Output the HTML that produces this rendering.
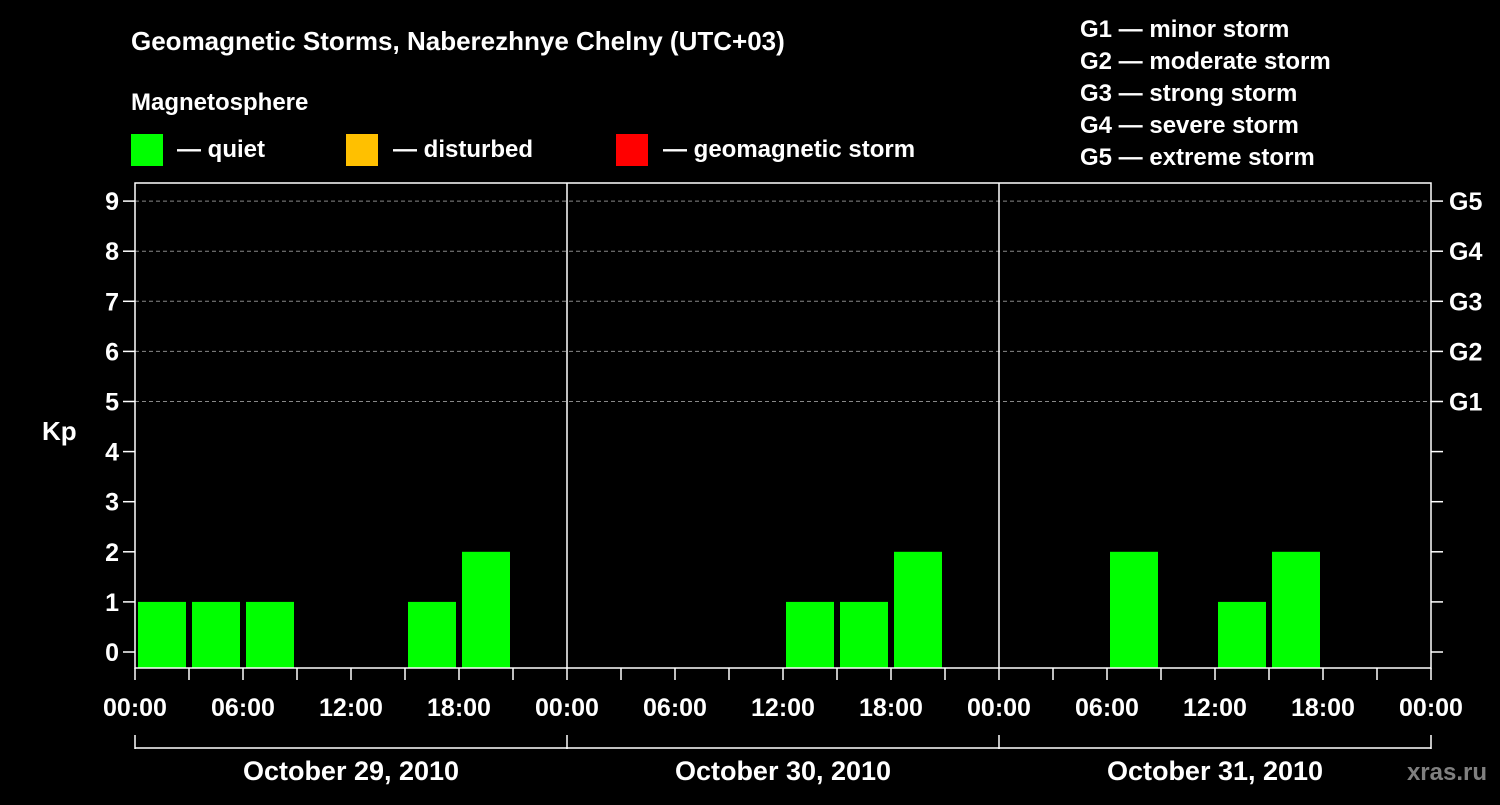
<!DOCTYPE html>
<html><head><meta charset="utf-8"><style>
body{margin:0;background:#000;width:1500px;height:800px;overflow:hidden;}
svg text{font-family:"Liberation Sans",Arial,sans-serif;font-weight:bold;fill:#fff;}
</style></head><body>
<svg id="c" width="1500" height="800">
<text x="131" y="50" font-size="26">Geomagnetic Storms, Naberezhnye Chelny (UTC+03)</text>
<text x="131" y="110" font-size="24">Magnetosphere</text>
<rect x="131" y="134" width="32" height="32" fill="#00ff00"/>
<text x="177" y="157" font-size="24">— quiet</text>
<rect x="346" y="134" width="32" height="32" fill="#ffc000"/>
<text x="393" y="157" font-size="24">— disturbed</text>
<rect x="616" y="134" width="32" height="32" fill="#ff0000"/>
<text x="663" y="157" font-size="24">— geomagnetic storm</text>
<g font-size="24">
<text x="1080" y="37">G1 — minor storm</text>
<text x="1080" y="69">G2 — moderate storm</text>
<text x="1080" y="101">G3 — strong storm</text>
<text x="1080" y="133">G4 — severe storm</text>
<text x="1080" y="165">G5 — extreme storm</text>
</g>
<text x="42" y="440" font-size="26">Kp</text>
<text x="1487" y="780" font-size="24" text-anchor="end" style="fill:#808080">xras.ru</text>
<g id="plot"></g>
</svg>
<script>
const kpValues=[1,1,1,0,0,1,2,0, 0,0,0,0,1,1,2,0, 0,0,2,0,1,2,0,0];
const dayLabels=["October 29, 2010","October 30, 2010","October 31, 2010"];
const hourLabels=["00:00","06:00","12:00","18:00"];
const gLabels=["G1","G2","G3","G4","G5"];
const yTicks=[0,1,2,3,4,5,6,7,8,9];
const L=135,R=1431,T=183,B=668;
const slotW=(R-L)/kpValues.length;
const x=i=>L+i*slotW;
const y=v=>652-v*50.1;
const ns="http://www.w3.org/2000/svg";
const g=document.getElementById('plot');
function mk(t,a,txt){const e=document.createElementNS(ns,t);for(const k in a)e.setAttribute(k,a[k]);if(txt!==undefined)e.textContent=txt;g.appendChild(e);return e;}
yTicks.forEach(v=>{
 if(v>=5){const l=mk('line',{x1:L,x2:R,y1:y(v),y2:y(v),stroke:'#888','stroke-dasharray':'4,3','stroke-width':1});
 
 }
 const t=mk('line',{x1:L-12,x2:L,y1:y(v),y2:y(v),stroke:'#fff','stroke-width':1.5});
 
 
 const t2=mk('line',{x1:R,x2:R+12,y1:y(v),y2:y(v),stroke:'#fff','stroke-width':1.5});
 
 
 const lb=mk('text',{x:L-16,y:y(v)+9,'font-size':25,'text-anchor':'end'},String(v));
 
 
 if(v>=5){const gl=mk('text',{x:R+18,y:y(v)+9,'font-size':25},gLabels[v-5]);
 
 }
});
kpValues.forEach((v,i)=>{
 if(v<=0)return;
 const c=v>=5?'#ff0000':(v>=4?'#ffc000':'#00ff00');
 const r=mk('rect',{x:x(i)+3,y:y(v),width:slotW-6,height:B-y(v),fill:c});
 
 
});
const fr=mk('rect',{x:L,y:T,width:R-L,height:B-T,fill:'none',stroke:'#fff','stroke-width':1.5});


const nd=dayLabels.length, dayW=(R-L)/nd;
for(let d=0;d<=nd;d++){
 const dx=L+d*dayW;
 if(d>0&&d<nd){const l=mk('line',{x1:dx,x2:dx,y1:T,y2:B,stroke:'#fff','stroke-width':1.5});
 
 }
 const bt=mk('line',{x1:dx,x2:dx,y1:735,y2:749,stroke:'#fff','stroke-width':1.5});
 
 
 if(d<nd){const dl=mk('text',{x:dx+dayW/2,y:780,'font-size':27,'text-anchor':'middle'},dayLabels[d]);
 
 }
}
const bl=mk('line',{x1:L,x2:R,y1:748,y2:748,stroke:'#fff','stroke-width':1.5});


for(let i=0;i<=kpValues.length;i++){
 const tx=x(i);
 const t=mk('line',{x1:tx,x2:tx,y1:B,y2:B+12,stroke:'#fff','stroke-width':1.5});
 
 
 if(i%2===0){const lb=mk('text',{x:tx,y:716,'font-size':25,'text-anchor':'middle'},hourLabels[(i/2)%4]);
 
 }
}
</script>
</body></html>
